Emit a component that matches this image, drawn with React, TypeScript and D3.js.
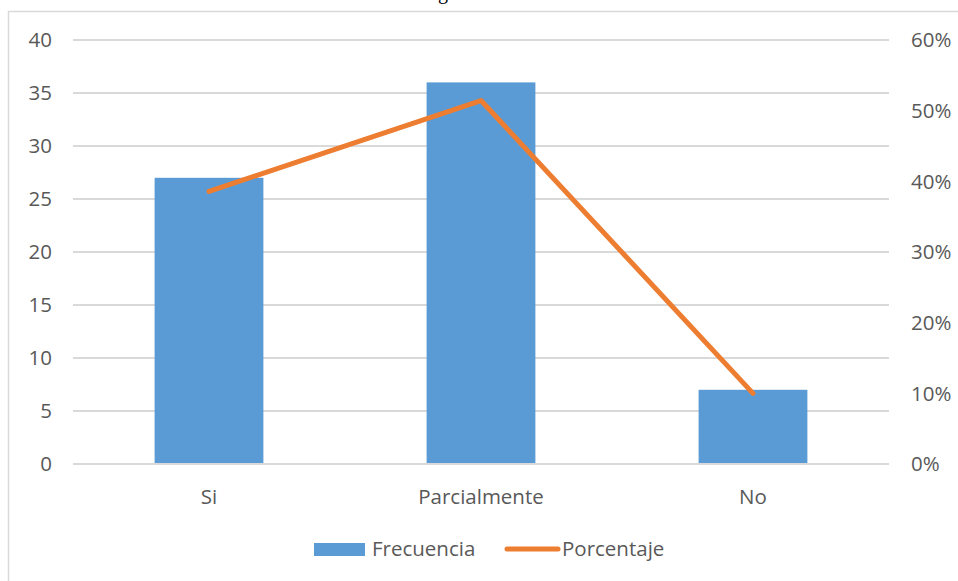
import * as React from "react";
import { scaleBand, scaleLinear, line } from "d3";

const categories = ["Si", "Parcialmente", "No"];
const frecuencia = [27, 36, 7];
const porcentaje = [0.3857, 0.5143, 0.1];
const leftTicks = [0, 5, 10, 15, 20, 25, 30, 35, 40];
const rightTicks = [0, 0.1, 0.2, 0.3, 0.4, 0.5, 0.6];

const width = 958, height = 581;
const plot = {left: 73, right: 889, top: 40, bottom: 464};
const textColor = "#595959";
const gridColor = "#d9d9d9";
const font = "'Open Sans', sans-serif";
const fs = 20.5;

const App: React.FC = () => {
    const x = scaleBand<string>()
        .domain(categories)
        .range([plot.left, plot.right])
        .paddingInner(0.6)
        .paddingOuter(0.3);
    const yLeft = scaleLinear().domain([0, 40]).range([plot.bottom, plot.top]);
    const yRight = scaleLinear().domain([0, 0.6]).range([plot.bottom, plot.top]);

    const pctLine = line<number>()
        .x((_, i) => (x(categories[i]) as number) + x.bandwidth() / 2)
        .y(d => yRight(d));

    return (
        <svg width={width} height={height}
             style={{position: "absolute", left: 0, top: 0, background: "#fff"}}
             fontFamily={font}>
            <rect x={0} y={0} width={width} height={height} fill="#fff"/>
            {/* partially visible title */}
            <text x={438} y={-1} fontFamily="'Liberation Serif', serif" fontSize={20} fill="#000">g</text>
            <rect x={8.5} y={11.5} width={width + 10} height={height + 10}
                  fill="none" stroke={gridColor} strokeWidth={1.5}/>

            {leftTicks.map(t => (
                <g key={"l" + t}>
                    <line x1={plot.left} x2={plot.right} y1={yLeft(t)} y2={yLeft(t)}
                          stroke={gridColor} strokeWidth={1.8}/>
                    <text x={52} y={yLeft(t)} dy="0.35em" textAnchor="end"
                          fontSize={fs} fill={textColor}>{t}</text>
                </g>
            ))}
            {rightTicks.map(t => (
                <text key={"r" + t} x={911} y={yRight(t)} dy="0.35em" textAnchor="start"
                      fontSize={fs} fill={textColor}>{Math.round(t * 100) + "%"}</text>
            ))}

            {categories.map((c, i) => (
                <rect key={c} x={x(c)} y={yLeft(frecuencia[i])} width={x.bandwidth()}
                      height={yLeft(0) - yLeft(frecuencia[i])} fill="#5b9bd5"/>
            ))}
            <line x1={plot.left} x2={plot.right} y1={yLeft(0)} y2={yLeft(0)}
                  stroke={gridColor} strokeWidth={1.8}/>

            <path d={pctLine(porcentaje) ?? ""} fill="none" stroke="#ed7d31"
                  strokeWidth={5} strokeLinecap="round" strokeLinejoin="round"/>

            {categories.map(c => (
                <text key={"c" + c} x={(x(c) as number) + x.bandwidth() / 2} y={504}
                      textAnchor="middle" fontSize={fs} fill={textColor}>{c}</text>
            ))}

            <g>
                <rect x={314} y={543} width={51} height={13} fill="#5b9bd5"/>
                <text x={372} y={556} fontSize={fs} fill={textColor}>Frecuencia</text>
                <line x1={507} x2={558} y1={549} y2={549} stroke="#ed7d31"
                      strokeWidth={5} strokeLinecap="round"/>
                <text x={562} y={556} fontSize={fs} fill={textColor}>Porcentaje</text>
            </g>
        </svg>
    );
};

export default App;
